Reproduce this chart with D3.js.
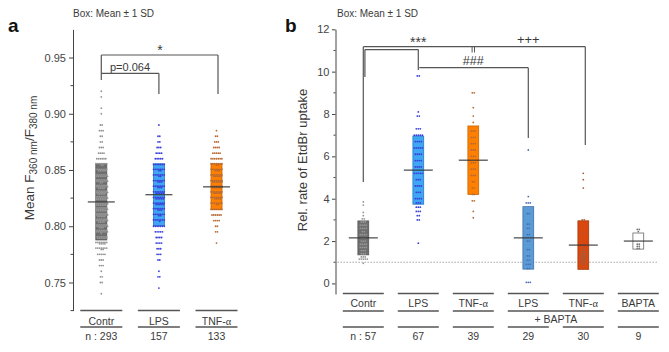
<!DOCTYPE html>
<html>
<head>
<meta charset="utf-8">
<script src="https://cdn.jsdelivr.net/npm/d3@7"></script>
<style>
  body { margin: 0; background: #fff; }
  text { font-family: "Liberation Sans", Arial, sans-serif; fill: #3a3a3a; }
</style>
</head>
<body>
<div id="chart"></div>
<script>
// ---------- panel a data ----------
var catsA = ["Contr", "LPS", "TNF-α"];
var nA = [293, 157, 133];
var meanA = [0.8216, 0.828, 0.835];
var sdA = [0.0338, 0.0275, 0.0203];
var ticksA = [0.75, 0.80, 0.85, 0.90, 0.95];
// [value, number of cells]
var dotsContrA = [[0.740,1],[0.750,2],[0.755,2],[0.760,1],[0.765,3],[0.770,3],[0.775,5],[0.780,9],[0.785,11],
  [0.790,13],[0.795,15],[0.800,17],[0.805,18],[0.810,19],[0.815,20],[0.820,20],[0.825,20],[0.830,19],[0.835,18],
  [0.840,16],[0.845,14],[0.850,12],[0.855,9],[0.860,6],[0.865,4],[0.870,3],[0.875,2],[0.880,2],[0.885,3],[0.890,2],
  [0.900,1],[0.905,1],[0.915,1],[0.920,1]];
var dotsLpsA = [[0.745,1],[0.755,2],[0.760,1],[0.770,2],[0.775,3],[0.780,3],[0.785,4],[0.790,4],[0.795,5],[0.800,7],
  [0.805,8],[0.810,9],[0.815,10],[0.820,12],[0.825,12],[0.830,12],[0.835,10],[0.840,10],[0.845,9],[0.850,9],
  [0.855,7],[0.860,5],[0.865,4],[0.870,3],[0.875,2],[0.880,2],[0.890,1]];
var dotsTnfA = [[0.785,1],[0.795,2],[0.800,2],[0.805,4],[0.810,6],[0.815,7],[0.820,9],[0.825,11],[0.830,12],
  [0.835,13],[0.840,13],[0.845,12],[0.850,10],[0.855,9],[0.860,7],[0.865,5],[0.870,4],[0.875,3],[0.880,2],[0.885,1]];

// ---------- panel b data ----------
var catsB = ["Contr", "LPS", "TNF-α", "LPS", "TNF-α", "BAPTA"];
var nB = [57, 67, 39, 29, 30, 9];
var meanB = [2.15, 5.35, 5.82, 2.15, 1.81, 2.0];
var sdB = [0.80, 1.61, 1.615, 1.475, 1.145, 0.38];
var ticksB = [0, 2, 4, 6, 8, 10, 12];
var dotsContrB = [[0.95,1],[1.15,5],[1.25,3],[1.4,3],[1.55,3],[1.7,4],[1.85,4],[2.0,3],[2.15,3],[2.3,4],[2.45,2],
  [2.6,4],[2.75,4],[2.9,3],[3.05,2],[3.2,1],[3.35,1],[3.7,1],[3.85,1]];
var dotsLpsB = [[1.9,1],[3.0,2],[3.2,2],[3.4,3],[3.6,3],[3.8,3],[4.0,4],[4.3,3],[4.6,4],[4.9,3],[5.2,5],[5.5,4],
  [5.8,4],[6.1,4],[6.4,5],[6.7,4],[7.0,5],[7.3,3],[7.9,2],[8.1,1],[9.8,2]];
var dotsTnfB = [[3.1,1],[3.4,1],[3.9,2],[4.2,2],[4.5,2],[4.8,2],[5.1,3],[5.4,3],[5.7,3],[6.0,3],[6.3,3],[6.6,3],
  [6.9,3],[7.2,3],[7.6,1],[7.9,1],[8.3,1],[9.0,2]];
var dotsLpsBaptaB = [[0.05,3],[0.7,2],[0.9,3],[1.1,2],[1.3,2],[1.6,2],[2.0,2],[2.3,2],[2.6,2],[2.8,2],[3.3,2],
  [3.8,3],[4.1,1],[6.3,1]];
var dotsTnfBaptaB = [[0.7,1],[0.9,2],[1.0,3],[1.1,3],[1.2,3],[1.3,3],[1.4,3],[1.5,2],[1.6,2],[1.7,1],[1.8,1],
  [2.4,1],[3.0,2],[4.5,1],[4.9,1],[5.2,1]];
var dotsBaptaB = [[1.65,2],[1.75,2],[1.85,2],[2.45,1],[2.55,2]];

var boxFillA = ["#6e6e6e", "#3ea6f2", "#ff8000"];
var boxLineA = ["#555555", "#2a78c8", "#c86400"];
var dotColA = ["#959595", "#3a40dc", "#b86a34"];
var boxFillB = ["#6e6e6e", "#3ea6f2", "#ff8000", "#5b9bd5", "#d9480f", "#ffffff"];
var boxLineB = ["#555555", "#2a78c8", "#c86400", "#3d72aa", "#a63a0c", "#6a6a6a"];
var dotColB = ["#959595", "#3a40dc", "#b86a34", "#4a6fb8", "#a85a3a", "#777777"];

var svg = d3.select("#chart").append("svg")
    .attr("width", 669)
    .attr("height", 352);

var lineCol = "#555";

// swarm-ish layout of each bin: rows of dots centred on the group
function drawDots(g, cx, y, bins, color, perRow, dx, rowGap) {
    bins.forEach(function(b) {
        var v = b[0], c = b[1];
        var rows = Math.ceil(c / perRow);
        for (var r = 0; r < rows; r++) {
            var inRow = Math.min(perRow, c - r * perRow);
            for (var i = 0; i < inRow; i++) {
                g.append("circle")
                    .attr("cx", cx + (i - (inRow - 1) / 2) * dx + (r % 2 ? dx / 2 : 0))
                    .attr("cy", y(v) + (r - (rows - 1) / 2) * rowGap)
                    .attr("r", 0.9)
                    .attr("fill", color);
            }
        }
    });
}

function catLabel(g, x, yPos, label, size) {
    var t = g.append("text").attr("x", x).attr("y", yPos)
        .attr("text-anchor", "middle").attr("font-size", size);
    if (label.indexOf("α") >= 0) {
        t.append("tspan").text(label.replace("α", ""));
        t.append("tspan").attr("font-family", "'Liberation Serif', 'DejaVu Serif', serif").text("α");
    } else {
        t.text(label);
    }
}

function hline(g, x1, x2, yy, w) {
    g.append("line").attr("x1", x1).attr("x2", x2).attr("y1", yy).attr("y2", yy)
        .attr("stroke", lineCol).attr("stroke-width", w || 1.2);
}
function vline(g, xx, y1, y2, w) {
    g.append("line").attr("x1", xx).attr("x2", xx).attr("y1", y1).attr("y2", y2)
        .attr("stroke", lineCol).attr("stroke-width", w || 1.2);
}

// ======================= panel a =======================
var gA = svg.append("g");
var yA = d3.scaleLinear().domain([0.725, 0.975]).range([310.6, 29.4]);
var xA = d3.scalePoint().domain(catsA).range([101.3, 216.5]);
var axA = 73;

gA.append("g")
    .attr("transform", "translate(" + axA + ",0)")
    .call(d3.axisLeft(yA).tickValues(ticksA).tickFormat(d3.format(".2f")).tickSize(4).tickSizeOuter(0).tickPadding(3))
    .call(function(a) {
        a.selectAll("text").attr("font-size", 11).style("fill", "#444");
        a.selectAll("line, path").attr("stroke", "#444");
    });
[0.725, 0.775, 0.825, 0.875, 0.925].forEach(function(v) {
    gA.append("line").attr("x1", axA - 2.5).attr("x2", axA).attr("y1", yA(v)).attr("y2", yA(v)).attr("stroke", "#444");
});

var dotsA = [dotsContrA, dotsLpsA, dotsTnfA];
catsA.forEach(function(c, i) {
    var cx = xA(c);
    gA.append("rect")
        .attr("x", cx - 5.5).attr("width", 11)
        .attr("y", yA(meanA[i] + sdA[i]))
        .attr("height", yA(meanA[i] - sdA[i]) - yA(meanA[i] + sdA[i]))
        .attr("fill", boxFillA[i]).attr("stroke", boxLineA[i]).attr("stroke-width", 0.8);
    drawDots(gA, cx, yA, dotsA[i], dotColA[i], 7, 1.8, 1.4);
    gA.append("line").attr("x1", cx - 13.5).attr("x2", cx + 13.5)
        .attr("y1", yA(meanA[i])).attr("y2", yA(meanA[i]))
        .attr("stroke", "#333").attr("stroke-width", 1.1);
    hline(gA, cx - 21, cx + 21, 310.5, 1.6);
    catLabel(gA, cx, 324.5, c, 10.5);
    hline(gA, cx - 21, cx + 21, 327, 1.6);
    gA.append("text").attr("x", cx).attr("y", 340).attr("text-anchor", "middle")
        .attr("font-size", 10.5).text((i === 0 ? "n : " : "") + nA[i]);
});

// brackets a
hline(gA, xA("Contr"), xA("TNF-α") + 1.5, 55);
vline(gA, xA("Contr"), 55, 80);
vline(gA, xA("TNF-α") + 1.5, 55, 94);
hline(gA, xA("Contr"), xA("LPS"), 73.3);
vline(gA, xA("LPS"), 73.3, 94);
gA.append("text").attr("x", 160).attr("y", 55).attr("text-anchor", "middle").attr("font-size", 14).text("*");
gA.append("text").attr("x", 110).attr("y", 70.5).attr("font-size", 11).text("p=0.064");

gA.append("text").attr("x", 73).attr("y", 17).attr("font-size", 10).text("Box: Mean ± 1 SD");
gA.append("text").attr("x", 8).attr("y", 32).attr("font-size", 19).attr("font-weight", "bold")
    .style("fill", "#111").text("a");

var labA = gA.append("text").attr("transform", "translate(34,158) rotate(-90)")
    .attr("text-anchor", "middle").attr("font-size", 13.5);
labA.append("tspan").text("Mean F");
labA.append("tspan").attr("font-size", 10).attr("dy", 3).text("360 nm");
labA.append("tspan").attr("dy", -3).text("/F");
labA.append("tspan").attr("font-size", 10).attr("dy", 3).text("380 nm");

// ======================= panel b =======================
var gB = svg.append("g");
var yB = d3.scaleLinear().domain([-0.5, 12]).range([294, 29.3]);
var groupIdx = d3.range(catsB.length);
var xB = d3.scalePoint().domain(groupIdx).range([363.3, 638.3]);
var axB = 335.5;

gB.append("g")
    .attr("transform", "translate(" + axB + ",0)")
    .call(d3.axisLeft(yB).tickValues(ticksB).tickSize(3.5).tickSizeOuter(0).tickPadding(2.5))
    .call(function(a) {
        a.selectAll("text").attr("font-size", 11).style("fill", "#444");
        a.selectAll("line, path").attr("stroke", "#444");
    });
[1, 3, 5, 7, 9, 11].forEach(function(v) {
    gB.append("line").attr("x1", axB - 2).attr("x2", axB).attr("y1", yB(v)).attr("y2", yB(v)).attr("stroke", "#444");
});

// reference line at 1
gB.append("line").attr("x1", axB + 2).attr("x2", 658).attr("y1", yB(1)).attr("y2", yB(1))
    .attr("stroke", "#8a8a8a").attr("stroke-width", 0.9).attr("stroke-dasharray", "1.3,1.7");

var dotsB = [dotsContrB, dotsLpsB, dotsTnfB, dotsLpsBaptaB, dotsTnfBaptaB, dotsBaptaB];
groupIdx.forEach(function(i) {
    var cx = xB(i);
    gB.append("rect")
        .attr("x", cx - 5.4).attr("width", 10.8)
        .attr("y", yB(meanB[i] + sdB[i]))
        .attr("height", yB(meanB[i] - sdB[i]) - yB(meanB[i] + sdB[i]))
        .attr("fill", boxFillB[i]).attr("stroke", boxLineB[i]).attr("stroke-width", 0.8);
    drawDots(gB, cx, yB, dotsB[i], dotColB[i], 5, 2, 1.5);
    gB.append("line").attr("x1", cx - 14.5).attr("x2", cx + 14.5)
        .attr("y1", yB(meanB[i])).attr("y2", yB(meanB[i]))
        .attr("stroke", "#333").attr("stroke-width", 1.1);
    hline(gB, cx - 20.5, cx + 20.5, 293.5, 1.6);
    catLabel(gB, cx, 306.5, catsB[i], 10.5);
    if (i !== 3 && i !== 4) hline(gB, cx - 20.5, cx + 20.5, 311, 1.6);
    hline(gB, cx - 20.5, cx + 20.5, 327, 1.6);
    gB.append("text").attr("x", cx).attr("y", 340).attr("text-anchor", "middle")
        .attr("font-size", 10.5).text((i === 0 ? "n : " : "") + nB[i]);
});
hline(gB, xB(3) - 20.5, xB(4) + 20.5, 311, 1.6);
gB.append("text").attr("x", (xB(3) + xB(4)) / 2).attr("y", 323).attr("text-anchor", "middle")
    .attr("font-size", 10.5).text("+ BAPTA");

// brackets b
var bx0 = xB(0), bx1 = xB(1), bx2 = xB(2), bx3 = xB(3), bx4 = xB(4) + 2;
hline(gB, bx0, bx4, 46.7);
vline(gB, bx0, 46.7, 182);
vline(gB, bx0 + 1.6, 49.6, 77);
hline(gB, bx0 + 1.6, bx1, 49.6);
vline(gB, bx1, 49.6, 70);
vline(gB, bx2 - 1.2, 46.7, 52.5, 1);
vline(gB, bx2 + 1.2, 46.7, 52.5, 1);
hline(gB, bx1 + 1, bx3, 67.7);
vline(gB, bx3, 67.7, 138);
vline(gB, bx4, 46.7, 145);
gB.append("text").attr("x", bx1).attr("y", 46.5).attr("text-anchor", "middle").attr("font-size", 14).text("***");
gB.append("text").attr("x", bx3).attr("y", 44).attr("text-anchor", "middle").attr("font-size", 13).text("+++");
gB.append("text").attr("x", bx2).attr("y", 64.5).attr("text-anchor", "middle").attr("font-size", 12.5).text("###");

gB.append("text").attr("x", 337).attr("y", 17).attr("font-size", 10).text("Box: Mean ± 1 SD");
gB.append("text").attr("x", 285).attr("y", 32).attr("font-size", 19).attr("font-weight", "bold")
    .style("fill", "#111").text("b");
gB.append("text").attr("transform", "translate(307,160) rotate(-90)")
    .attr("text-anchor", "middle").attr("font-size", 13).text("Rel. rate of EtdBr uptake");
</script>
</body>
</html>
